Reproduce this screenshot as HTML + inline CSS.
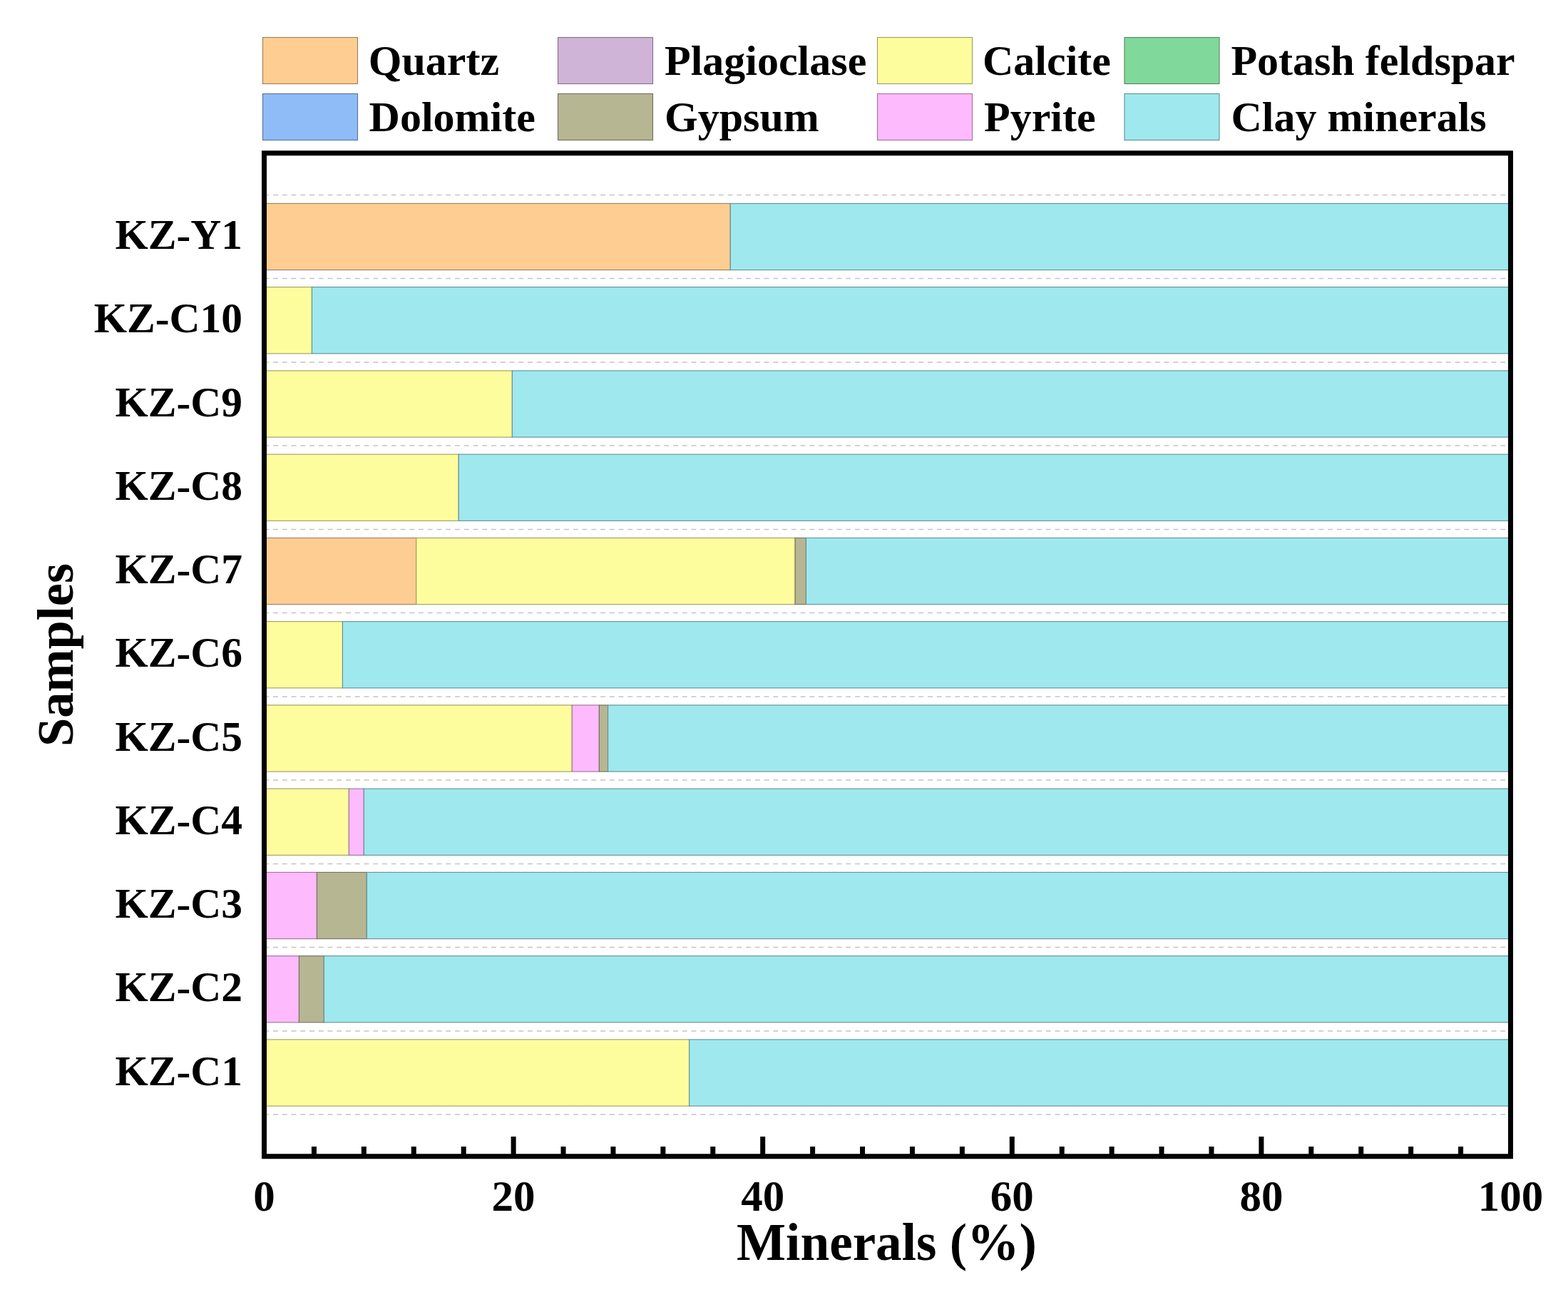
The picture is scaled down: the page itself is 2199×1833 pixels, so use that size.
<!DOCTYPE html>
<html><head><meta charset="utf-8"><title>Mineral composition</title>
<style>html,body{margin:0;padding:0;background:#fff;}svg{display:block;}</style>
</head><body>
<svg width="2199" height="1833" viewBox="0 0 2199 1833">
<rect x="0" y="0" width="2199" height="1833" fill="#fff"/>
<rect x="368.5" y="52.5" width="133" height="65" fill="#FECD92" stroke="#9d7f5a" stroke-width="1.1"/>
<text x="516.8" y="104.6" font-size="60" font-family="Liberation Serif, 'Times New Roman', serif" font-weight="bold" fill="#000">Quartz</text>
<rect x="782.5" y="52.5" width="133" height="65" fill="#CFB4D8" stroke="#806f85" stroke-width="1.1"/>
<text x="932" y="104.6" font-size="60" font-family="Liberation Serif, 'Times New Roman', serif" font-weight="bold" fill="#000">Plagioclase</text>
<rect x="1230.5" y="52.5" width="133" height="65" fill="#FEFD9E" stroke="#9d9c61" stroke-width="1.1"/>
<text x="1378" y="104.6" font-size="60" font-family="Liberation Serif, 'Times New Roman', serif" font-weight="bold" fill="#000">Calcite</text>
<rect x="1577" y="52.5" width="133" height="65" fill="#80D99B" stroke="#4f8660" stroke-width="1.1"/>
<text x="1726.4" y="104.6" font-size="60" font-family="Liberation Serif, 'Times New Roman', serif" font-weight="bold" fill="#000">Potash feldspar</text>
<rect x="368.5" y="131.5" width="133" height="65" fill="#8FBBF7" stroke="#587399" stroke-width="1.1"/>
<text x="517.6" y="183.7" font-size="60" font-family="Liberation Serif, 'Times New Roman', serif" font-weight="bold" fill="#000">Dolomite</text>
<rect x="782.5" y="131.5" width="133" height="65" fill="#B7B693" stroke="#71705b" stroke-width="1.1"/>
<text x="932" y="183.7" font-size="60" font-family="Liberation Serif, 'Times New Roman', serif" font-weight="bold" fill="#000">Gypsum</text>
<rect x="1230.5" y="131.5" width="133" height="65" fill="#FDBAFC" stroke="#9c739c" stroke-width="1.1"/>
<text x="1380" y="183.7" font-size="60" font-family="Liberation Serif, 'Times New Roman', serif" font-weight="bold" fill="#000">Pyrite</text>
<rect x="1577" y="131.5" width="133" height="65" fill="#9FE8EE" stroke="#628f93" stroke-width="1.1"/>
<text x="1726.4" y="183.7" font-size="60" font-family="Liberation Serif, 'Times New Roman', serif" font-weight="bold" fill="#000">Clay minerals</text>
<line x1="370.3" y1="273.38" x2="2118.5" y2="273.38" stroke="#c4c4c4" stroke-width="1.5" stroke-dasharray="6.9 5.85"/>
<line x1="370.3" y1="390.62" x2="2118.5" y2="390.62" stroke="#c4c4c4" stroke-width="1.5" stroke-dasharray="6.9 5.85"/>
<line x1="370.3" y1="507.88" x2="2118.5" y2="507.88" stroke="#c4c4c4" stroke-width="1.5" stroke-dasharray="6.9 5.85"/>
<line x1="370.3" y1="625.12" x2="2118.5" y2="625.12" stroke="#c4c4c4" stroke-width="1.5" stroke-dasharray="6.9 5.85"/>
<line x1="370.3" y1="742.38" x2="2118.5" y2="742.38" stroke="#c4c4c4" stroke-width="1.5" stroke-dasharray="6.9 5.85"/>
<line x1="370.3" y1="859.62" x2="2118.5" y2="859.62" stroke="#c4c4c4" stroke-width="1.5" stroke-dasharray="6.9 5.85"/>
<line x1="370.3" y1="976.88" x2="2118.5" y2="976.88" stroke="#c4c4c4" stroke-width="1.5" stroke-dasharray="6.9 5.85"/>
<line x1="370.3" y1="1094.12" x2="2118.5" y2="1094.12" stroke="#c4c4c4" stroke-width="1.5" stroke-dasharray="6.9 5.85"/>
<line x1="370.3" y1="1211.38" x2="2118.5" y2="1211.38" stroke="#c4c4c4" stroke-width="1.5" stroke-dasharray="6.9 5.85"/>
<line x1="370.3" y1="1328.62" x2="2118.5" y2="1328.62" stroke="#c4c4c4" stroke-width="1.5" stroke-dasharray="6.9 5.85"/>
<line x1="370.3" y1="1445.88" x2="2118.5" y2="1445.88" stroke="#c4c4c4" stroke-width="1.5" stroke-dasharray="6.9 5.85"/>
<line x1="370.3" y1="1563.12" x2="2118.5" y2="1563.12" stroke="#c4c4c4" stroke-width="1.5" stroke-dasharray="6.9 5.85"/>
<rect x="370.50" y="285.40" width="653.75" height="93.2" fill="#FECD92" stroke="#9d7f5a" stroke-width="1.1"/>
<rect x="1024.25" y="285.40" width="1094.25" height="93.2" fill="#9FE8EE" stroke="#628f93" stroke-width="1.1"/>
<text x="340" y="349.10" font-size="59.5" text-anchor="end" font-family="Liberation Serif, 'Times New Roman', serif" font-weight="bold" fill="#000">KZ-Y1</text>
<rect x="370.50" y="402.65" width="66.95" height="93.2" fill="#FEFD9E" stroke="#9d9c61" stroke-width="1.1"/>
<rect x="437.45" y="402.65" width="1681.05" height="93.2" fill="#9FE8EE" stroke="#628f93" stroke-width="1.1"/>
<text x="340" y="466.35" font-size="59.5" text-anchor="end" font-family="Liberation Serif, 'Times New Roman', serif" font-weight="bold" fill="#000">KZ-C10</text>
<rect x="370.50" y="519.90" width="347.85" height="93.2" fill="#FEFD9E" stroke="#9d9c61" stroke-width="1.1"/>
<rect x="718.35" y="519.90" width="1400.15" height="93.2" fill="#9FE8EE" stroke="#628f93" stroke-width="1.1"/>
<text x="340" y="583.60" font-size="59.5" text-anchor="end" font-family="Liberation Serif, 'Times New Roman', serif" font-weight="bold" fill="#000">KZ-C9</text>
<rect x="370.50" y="637.15" width="272.69" height="93.2" fill="#FEFD9E" stroke="#9d9c61" stroke-width="1.1"/>
<rect x="643.19" y="637.15" width="1475.31" height="93.2" fill="#9FE8EE" stroke="#628f93" stroke-width="1.1"/>
<text x="340" y="700.85" font-size="59.5" text-anchor="end" font-family="Liberation Serif, 'Times New Roman', serif" font-weight="bold" fill="#000">KZ-C8</text>
<rect x="370.50" y="754.40" width="213.26" height="93.2" fill="#FECD92" stroke="#9d7f5a" stroke-width="1.1"/>
<rect x="583.76" y="754.40" width="531.39" height="93.2" fill="#FEFD9E" stroke="#9d9c61" stroke-width="1.1"/>
<rect x="1115.15" y="754.40" width="15.29" height="93.2" fill="#B7B693" stroke="#71705b" stroke-width="1.1"/>
<rect x="1130.44" y="754.40" width="988.06" height="93.2" fill="#9FE8EE" stroke="#628f93" stroke-width="1.1"/>
<text x="340" y="818.10" font-size="59.5" text-anchor="end" font-family="Liberation Serif, 'Times New Roman', serif" font-weight="bold" fill="#000">KZ-C7</text>
<rect x="370.50" y="871.65" width="109.95" height="93.2" fill="#FEFD9E" stroke="#9d9c61" stroke-width="1.1"/>
<rect x="480.45" y="871.65" width="1638.05" height="93.2" fill="#9FE8EE" stroke="#628f93" stroke-width="1.1"/>
<text x="340" y="935.35" font-size="59.5" text-anchor="end" font-family="Liberation Serif, 'Times New Roman', serif" font-weight="bold" fill="#000">KZ-C6</text>
<rect x="370.50" y="988.90" width="431.76" height="93.2" fill="#FEFD9E" stroke="#9d9c61" stroke-width="1.1"/>
<rect x="802.26" y="988.90" width="38.11" height="93.2" fill="#FDBAFC" stroke="#9c739c" stroke-width="1.1"/>
<rect x="840.36" y="988.90" width="12.24" height="93.2" fill="#B7B693" stroke="#71705b" stroke-width="1.1"/>
<rect x="852.60" y="988.90" width="1265.90" height="93.2" fill="#9FE8EE" stroke="#628f93" stroke-width="1.1"/>
<text x="340" y="1052.60" font-size="59.5" text-anchor="end" font-family="Liberation Serif, 'Times New Roman', serif" font-weight="bold" fill="#000">KZ-C5</text>
<rect x="370.50" y="1106.15" width="118.86" height="93.2" fill="#FEFD9E" stroke="#9d9c61" stroke-width="1.1"/>
<rect x="489.36" y="1106.15" width="20.98" height="93.2" fill="#FDBAFC" stroke="#9c739c" stroke-width="1.1"/>
<rect x="510.34" y="1106.15" width="1608.16" height="93.2" fill="#9FE8EE" stroke="#628f93" stroke-width="1.1"/>
<text x="340" y="1169.85" font-size="59.5" text-anchor="end" font-family="Liberation Serif, 'Times New Roman', serif" font-weight="bold" fill="#000">KZ-C4</text>
<rect x="370.50" y="1223.40" width="73.94" height="93.2" fill="#FDBAFC" stroke="#9c739c" stroke-width="1.1"/>
<rect x="444.44" y="1223.40" width="69.92" height="93.2" fill="#B7B693" stroke="#71705b" stroke-width="1.1"/>
<rect x="514.36" y="1223.40" width="1604.14" height="93.2" fill="#9FE8EE" stroke="#628f93" stroke-width="1.1"/>
<text x="340" y="1287.10" font-size="59.5" text-anchor="end" font-family="Liberation Serif, 'Times New Roman', serif" font-weight="bold" fill="#000">KZ-C3</text>
<rect x="370.50" y="1340.65" width="48.94" height="93.2" fill="#FDBAFC" stroke="#9c739c" stroke-width="1.1"/>
<rect x="419.44" y="1340.65" width="34.96" height="93.2" fill="#B7B693" stroke="#71705b" stroke-width="1.1"/>
<rect x="454.40" y="1340.65" width="1664.10" height="93.2" fill="#9FE8EE" stroke="#628f93" stroke-width="1.1"/>
<text x="340" y="1404.35" font-size="59.5" text-anchor="end" font-family="Liberation Serif, 'Times New Roman', serif" font-weight="bold" fill="#000">KZ-C2</text>
<rect x="370.50" y="1457.90" width="596.07" height="93.2" fill="#FEFD9E" stroke="#9d9c61" stroke-width="1.1"/>
<rect x="966.57" y="1457.90" width="1151.93" height="93.2" fill="#9FE8EE" stroke="#628f93" stroke-width="1.1"/>
<text x="340" y="1521.60" font-size="59.5" text-anchor="end" font-family="Liberation Serif, 'Times New Roman', serif" font-weight="bold" fill="#000">KZ-C1</text>
<rect x="370.5" y="214.75" width="1748.00" height="1407.00" fill="none" stroke="#000" stroke-width="7"/>
<rect x="367.00" y="1594" width="7" height="26" fill="#000"/>
<text x="370.50" y="1698.3" font-size="61" text-anchor="middle" font-family="Liberation Serif, 'Times New Roman', serif" font-weight="bold" fill="#000">0</text>
<rect x="436.92" y="1608" width="7" height="12" fill="#000"/>
<rect x="506.84" y="1608" width="7" height="12" fill="#000"/>
<rect x="576.76" y="1608" width="7" height="12" fill="#000"/>
<rect x="646.68" y="1608" width="7" height="12" fill="#000"/>
<rect x="716.60" y="1594" width="7" height="26" fill="#000"/>
<text x="720.10" y="1698.3" font-size="61" text-anchor="middle" font-family="Liberation Serif, 'Times New Roman', serif" font-weight="bold" fill="#000">20</text>
<rect x="786.52" y="1608" width="7" height="12" fill="#000"/>
<rect x="856.44" y="1608" width="7" height="12" fill="#000"/>
<rect x="926.36" y="1608" width="7" height="12" fill="#000"/>
<rect x="996.28" y="1608" width="7" height="12" fill="#000"/>
<rect x="1066.20" y="1594" width="7" height="26" fill="#000"/>
<text x="1069.70" y="1698.3" font-size="61" text-anchor="middle" font-family="Liberation Serif, 'Times New Roman', serif" font-weight="bold" fill="#000">40</text>
<rect x="1136.12" y="1608" width="7" height="12" fill="#000"/>
<rect x="1206.04" y="1608" width="7" height="12" fill="#000"/>
<rect x="1275.96" y="1608" width="7" height="12" fill="#000"/>
<rect x="1345.88" y="1608" width="7" height="12" fill="#000"/>
<rect x="1415.80" y="1594" width="7" height="26" fill="#000"/>
<text x="1419.30" y="1698.3" font-size="61" text-anchor="middle" font-family="Liberation Serif, 'Times New Roman', serif" font-weight="bold" fill="#000">60</text>
<rect x="1485.72" y="1608" width="7" height="12" fill="#000"/>
<rect x="1555.64" y="1608" width="7" height="12" fill="#000"/>
<rect x="1625.56" y="1608" width="7" height="12" fill="#000"/>
<rect x="1695.48" y="1608" width="7" height="12" fill="#000"/>
<rect x="1765.40" y="1594" width="7" height="26" fill="#000"/>
<text x="1768.90" y="1698.3" font-size="61" text-anchor="middle" font-family="Liberation Serif, 'Times New Roman', serif" font-weight="bold" fill="#000">80</text>
<rect x="1835.32" y="1608" width="7" height="12" fill="#000"/>
<rect x="1905.24" y="1608" width="7" height="12" fill="#000"/>
<rect x="1975.16" y="1608" width="7" height="12" fill="#000"/>
<rect x="2045.08" y="1608" width="7" height="12" fill="#000"/>
<rect x="2115.00" y="1594" width="7" height="26" fill="#000"/>
<text x="2118.50" y="1698.3" font-size="61" text-anchor="middle" font-family="Liberation Serif, 'Times New Roman', serif" font-weight="bold" fill="#000">100</text>
<text x="1243.4" y="1766.8" font-size="73.2" text-anchor="middle" font-family="Liberation Serif, 'Times New Roman', serif" font-weight="bold" fill="#000">Minerals (%)</text>
<text transform="translate(102,918.5) rotate(-90)" x="0" y="0" font-size="72.3" text-anchor="middle" font-family="Liberation Serif, 'Times New Roman', serif" font-weight="bold" fill="#000">Samples</text>
</svg>
</body></html>
